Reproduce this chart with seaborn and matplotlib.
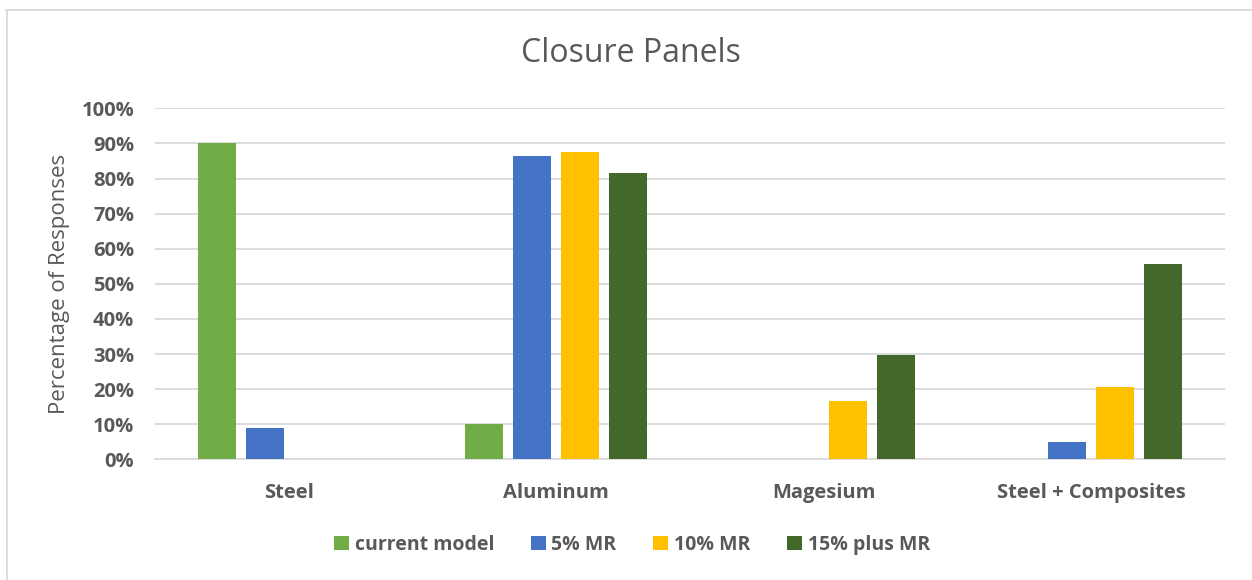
import matplotlib
matplotlib.use("Agg")
import matplotlib.pyplot as plt
from matplotlib.lines import Line2D
from matplotlib.patches import Patch
from matplotlib.ticker import PercentFormatter
import pandas as pd
import seaborn as sns

# Survey results: share of responses per material, by mass-reduction scenario
materials = ["Steel", "Aluminum", "Magesium", "Steel + Composites"]
scenarios = ["current model", "5% MR", "10% MR", "15% plus MR"]
current_model = [0.90, 0.10, 0.0, 0.0]
mr_5 = [0.09, 0.864, 0.0, 0.05]
mr_10 = [0.0, 0.875, 0.165, 0.207]
mr_15_plus = [0.0, 0.815, 0.296, 0.555]
colors = ["#70AD47", "#4472C4", "#FFC000", "#43682B"]

rows = []
for name, vals in zip(scenarios, [current_model, mr_5, mr_10, mr_15_plus]):
    for mat, v in zip(materials, vals):
        rows.append({"Material": mat, "Scenario": name, "Share": v})
df = pd.DataFrame(rows)

sns.set_theme(style="white")
plt.rcParams["font.family"] = ["Open Sans", "DejaVu Sans"]
text_gray = "#595959"

fig = plt.figure(figsize=(12.52, 5.80), dpi=100)
ax = fig.add_axes([155 / 1252, 1 - 459.3 / 580, 1070 / 1252, 351 / 580])

sns.barplot(data=df, x="Material", y="Share", hue="Scenario",
            order=materials, hue_order=scenarios, palette=colors,
            saturation=1, width=0.718, gap=0.21, linewidth=0,
            errorbar=None, legend=False, ax=ax, zorder=3)

ax.set_xlim(-0.5, 3.5)
ax.set_ylim(0, 1.0)
ax.set_yticks([i / 10 for i in range(11)])
ax.yaxis.set_major_formatter(PercentFormatter(1.0, decimals=0))
ax.grid(axis="y", color="#D9D9D9", linewidth=1.3, zorder=0)
ax.grid(axis="x", visible=False)
for side in ["top", "right", "left"]:
    ax.spines[side].set_visible(False)
ax.spines["bottom"].set_color("#D9D9D9")
ax.spines["bottom"].set_linewidth(1.3)
ax.tick_params(axis="both", length=0, labelcolor=text_gray, labelsize=14.5)
ax.tick_params(axis="y", pad=15)
ax.tick_params(axis="x", pad=17)
for lbl in ax.get_xticklabels() + ax.get_yticklabels():
    lbl.set_fontweight("bold")
ax.set_xlabel("")
ax.set_ylabel("Percentage of Responses", color=text_gray, fontsize=16, labelpad=8)

fig.text(631 / 1252, 1 - 54 / 580, "Closure Panels", ha="center", va="center",
         color=text_gray, fontsize=23)

handles = [Patch(facecolor=c, edgecolor="none") for c in colors]
leg = fig.legend(handles, scenarios, loc="center", bbox_to_anchor=(632 / 1252, 1 - 545 / 580),
                 ncol=4, frameon=False, handlelength=0.75, handleheight=0.75,
                 handletextpad=0.3, columnspacing=1.9,
                 prop={"weight": "bold", "size": 14})
for t in leg.get_texts():
    t.set_color(text_gray)

# light chart-area border along the top and left
fig.add_artist(Line2D([6 / 1252, 1.0], [1 - 9.5 / 580, 1 - 9.5 / 580],
                      transform=fig.transFigure, color="#D9D9D9", linewidth=1.3))
fig.add_artist(Line2D([6.5 / 1252, 6.5 / 1252], [0.0, 1 - 9.5 / 580],
                      transform=fig.transFigure, color="#D9D9D9", linewidth=1.3))

fig.savefig("out.png", dpi=100, facecolor="white")
